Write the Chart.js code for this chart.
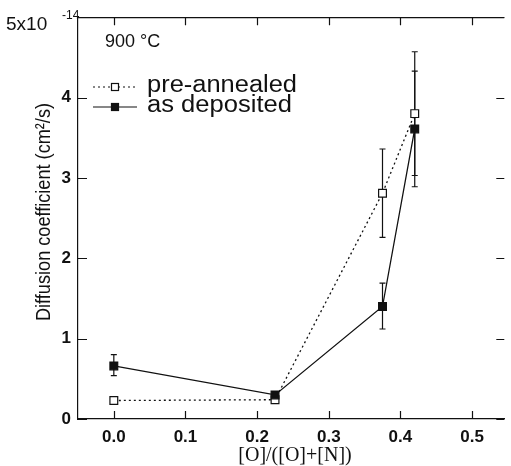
<!DOCTYPE html>
<html>
<head>
<meta charset="utf-8">
<script src="https://cdn.jsdelivr.net/npm/chart.js@4.4.1/dist/chart.umd.min.js"></script>
<style>
  html, body { margin: 0; padding: 0; background: #fff; }
  #wrap { width: 511px; height: 466px; position: relative; }
</style>
</head>
<body>
<div id="wrap"><canvas id="c" width="511" height="466"></canvas></div>
<script>
// ---- data ----
const xValues = [0, 0.225, 0.375, 0.42];
const preAnnealed = [0.23, 0.24, 2.81, 3.80];
const asDeposited = [0.66, 0.30, 1.40, 3.61];
const preErrLow  = [null, null, 2.26, 3.03];
const preErrHigh = [null, null, 3.36, 4.57];
const asErrLow   = [0.54, null, 1.12, 2.89];
const asErrHigh  = [0.80, null, 1.69, 4.33];
const xTicks = [0, 0.1, 0.2, 0.3, 0.4, 0.5];
const yTicks = [0, 1, 2, 3, 4, 5];
const seriesNames = ['pre-annealed', 'as deposited'];
const annotationText = '900 °C';
const yTitle = 'Diffusion coefficient (cm²/s)';
const xTitle = '[O]/([O]+[N])';

const INK = '#111';
const SANS = '"Liberation Sans", Arial, sans-serif';

function toPts(xs, ys) { return xs.map((x, i) => ({ x: x, y: ys[i] })); }

const decorPlugin = {
  id: 'decor',
  beforeDatasetsDraw(chart) {
    const ctx = chart.ctx, xs = chart.scales.x, ys = chart.scales.y;
    ctx.save();
    ctx.strokeStyle = INK;
    ctx.lineWidth = 1.2;
    const bars = [[preErrLow, preErrHigh], [asErrLow, asErrHigh]];
    bars.forEach(([lo, hi]) => {
      xValues.forEach((xv, i) => {
        if (lo[i] == null) return;
        const px = xs.getPixelForValue(xv);
        const p1 = ys.getPixelForValue(lo[i]);
        const p2 = ys.getPixelForValue(hi[i]);
        ctx.beginPath();
        ctx.moveTo(px, p1); ctx.lineTo(px, p2);
        ctx.moveTo(px - 3, p1); ctx.lineTo(px + 3, p1);
        ctx.moveTo(px - 3, p2); ctx.lineTo(px + 3, p2);
        ctx.stroke();
      });
    });
    ctx.restore();
  },
  afterDraw(chart) {
    const ctx = chart.ctx, xs = chart.scales.x, ys = chart.scales.y;
    const a = chart.chartArea;
    ctx.save();
    ctx.strokeStyle = INK;
    ctx.lineWidth = 1.2;
    // top border
    ctx.beginPath();
    ctx.moveTo(a.left, a.top + 0.5); ctx.lineTo(a.right, a.top + 0.5);
    ctx.stroke();
    // inward ticks
    ctx.beginPath();
    xTicks.forEach(v => {
      const px = Math.round(xs.getPixelForValue(v)) + 0.5;
      ctx.moveTo(px, a.bottom); ctx.lineTo(px, a.bottom - 8);
      ctx.moveTo(px, a.top); ctx.lineTo(px, a.top + 8);
    });
    yTicks.forEach(v => {
      const py = Math.round(ys.getPixelForValue(v)) + 0.5;
      ctx.moveTo(a.left, py); ctx.lineTo(a.left + 9, py);
      ctx.moveTo(a.right, py); ctx.lineTo(a.right - 8, py);
    });
    ctx.stroke();

    // 5x10^-14 label
    ctx.fillStyle = INK;
    ctx.textBaseline = 'alphabetic';
    ctx.textAlign = 'left';
    ctx.font = '19px ' + SANS;
    ctx.fillText('5x10', 6, 30);
    ctx.font = '12px ' + SANS;
    ctx.fillText('-14', 62, 19);

    // annotation
    ctx.font = '18px ' + SANS;
    ctx.textBaseline = 'middle';
    ctx.fillText(annotationText, 105, 42);

    // legend
    const legendRows = [
      { y: 87, dash: [2, 3], fill: '#fff', text: seriesNames[0], base: 92, w: 150 },
      { y: 107, dash: [], fill: INK, text: seriesNames[1], base: 112, w: 145 }
    ];
    legendRows.forEach(r => {
      ctx.setLineDash(r.dash);
      ctx.lineWidth = 1.2;
      ctx.beginPath();
      ctx.moveTo(93, r.y); ctx.lineTo(137, r.y);
      ctx.stroke();
      ctx.setLineDash([]);
      ctx.fillStyle = r.fill;
      ctx.fillRect(111, r.y - 4, 8, 8);
      ctx.strokeRect(111.5, r.y - 3.5, 7, 7);
      ctx.fillStyle = INK;
      ctx.font = '23px ' + SANS;
      ctx.textBaseline = 'alphabetic';
      const tw = ctx.measureText(r.text).width;
      ctx.save();
      ctx.translate(147, r.base);
      ctx.scale(r.w / tw, 1);
      ctx.fillText(r.text, 0, 0);
      ctx.restore();
    });

    // axis titles
    ctx.font = '20px ' + SANS;
    ctx.textAlign = 'center';
    ctx.textBaseline = 'middle';
    ctx.save();
    ctx.translate(44, 212);
    ctx.rotate(-Math.PI / 2);
    const w = ctx.measureText(yTitle).width;
    ctx.scale(218 / w, 1);
    ctx.fillText(yTitle, 0, 0);
    ctx.restore();
    ctx.font = '20px "Liberation Serif", "Times New Roman", serif';
    ctx.fillText(xTitle, 295, 456);
    ctx.restore();
  }
};

new Chart(document.getElementById('c'), {
  type: 'scatter',
  data: {
    datasets: [
      {
        label: seriesNames[0],
        data: toPts(xValues, preAnnealed),
        showLine: true,
        borderColor: INK,
        borderWidth: 1.3,
        borderDash: [2, 3],
        pointStyle: 'rect',
        pointRadius: 5.5,
        pointBorderWidth: 1.2,
        pointBackgroundColor: '#fff',
        pointBorderColor: INK,
        order: 2
      },
      {
        label: seriesNames[1],
        data: toPts(xValues, asDeposited),
        showLine: true,
        borderColor: INK,
        borderWidth: 1.3,
        pointStyle: 'rect',
        pointRadius: 5.5,
        pointBorderWidth: 1.2,
        pointBackgroundColor: INK,
        pointBorderColor: INK,
        order: 1
      }
    ]
  },
  options: {
    responsive: false,
    animation: false,
    events: [],
    layout: { padding: { top: 17, right: 0, left: 0, bottom: 0 } },
    plugins: { legend: { display: false }, tooltip: { enabled: false } },
    scales: {
      x: {
        type: 'linear',
        min: -0.05, max: 0.545,
        afterFit(s) { s.height = 47; },
        afterBuildTicks(s) { s.ticks = xTicks.map(v => ({ value: v })); },
        grid: { drawOnChartArea: false, drawTicks: false },
        border: { color: INK, width: 1.2 },
        ticks: {
          color: INK,
          font: { family: SANS, size: 17, weight: 'bold' },
          padding: 8,
          callback: v => v.toFixed(1)
        }
      },
      y: {
        type: 'linear',
        min: 0, max: 5,
        afterFit(s) { s.width = 78; },
        afterBuildTicks(s) { s.ticks = yTicks.map(v => ({ value: v })); },
        grid: { drawOnChartArea: false, drawTicks: false },
        border: { color: INK, width: 1.2 },
        ticks: {
          color: INK,
          font: { family: SANS, size: 17, weight: 'bold' },
          padding: 7,
          callback: v => (v === 5 ? '' : String(v))
        }
      }
    }
  },
  plugins: [decorPlugin]
});
</script>
</body>
</html>
